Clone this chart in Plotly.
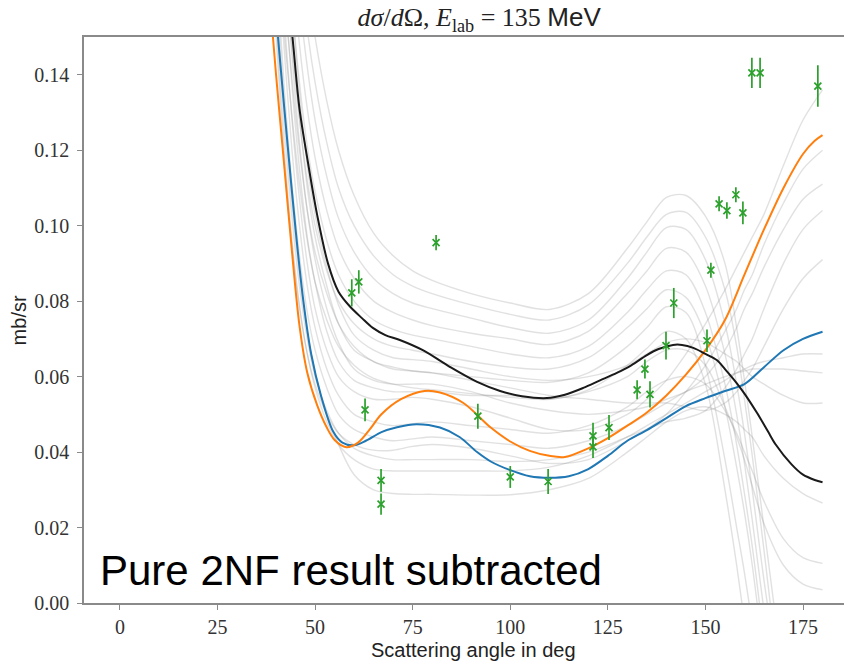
import plotly.graph_objects as go

# ---------------- data ----------------
# experimental points (angle in deg, value in mb/sr, error)
EXP_ANGLE = [59.4, 61.2, 62.8, 66.9, 66.9, 81.0, 91.7, 100.0, 109.7, 121.2, 121.2, 125.3,
             132.5, 134.5, 135.8, 139.9, 141.9, 150.4, 151.4, 153.5, 155.5, 157.8, 159.6,
             161.9, 164.0, 178.8]
EXP_VALUE = [0.0822, 0.0851, 0.0512, 0.0325, 0.0262, 0.0955, 0.0495, 0.0334, 0.0322, 0.0443,
             0.0414, 0.0465, 0.0565, 0.0620, 0.0553, 0.0682, 0.0795, 0.0695, 0.0882, 0.1058,
             0.1040, 0.1082, 0.1034, 0.1405, 0.1405, 0.1370]
EXP_ERROR = [0.0036, 0.0031, 0.0030, 0.0030, 0.0028, 0.0020, 0.0033, 0.0029, 0.0033, 0.0035,
             0.0030, 0.0033, 0.0025, 0.0025, 0.0035, 0.0037, 0.0040, 0.0030, 0.0020, 0.0020,
             0.0022, 0.0020, 0.0030, 0.0040, 0.0040, 0.0055]

ORANGE_X = [38, 40, 42, 44, 46, 48, 50.5, 53, 55, 58, 61, 64, 67, 72, 78, 82, 88, 95, 100,
            105, 110, 114, 120, 125, 130, 135, 140, 145, 150, 155, 160, 165, 170, 175, 178, 180]
ORANGE_Y = [0.165, 0.140, 0.117, 0.094, 0.0735, 0.061, 0.0525, 0.0465, 0.0432, 0.0413, 0.0425,
            0.046, 0.050, 0.054, 0.0562, 0.0558, 0.053, 0.0465, 0.0428, 0.0403, 0.0390, 0.0387,
            0.0410, 0.0437, 0.047, 0.0505, 0.055, 0.0605, 0.067, 0.075, 0.087, 0.099, 0.110,
            0.119, 0.1225, 0.124]

BLUE_X = [39, 41, 43, 45, 47, 49, 51.5, 54.6, 57, 60, 63, 67, 71, 76, 82, 87, 91.5, 95, 100,
          105, 110, 115, 120, 125, 130, 135, 140, 145, 150, 155, 160, 165, 170, 175, 180]
BLUE_Y = [0.168, 0.144, 0.121, 0.099, 0.080, 0.066, 0.055, 0.0455, 0.0425, 0.0418, 0.043,
          0.0453, 0.0466, 0.0474, 0.0465, 0.044, 0.040, 0.0375, 0.0352, 0.0336, 0.0332, 0.0336,
          0.0355, 0.039, 0.043, 0.0458, 0.049, 0.0522, 0.0543, 0.0562, 0.058, 0.0625, 0.067,
          0.070, 0.0719]

BLACK_X = [43, 44.3, 46, 48.2, 50.5, 53.3, 56, 59, 62, 64.8, 68, 71.7, 77.6, 84.5, 91.5, 97.4,
           103, 109.4, 114, 118.7, 123, 127.3, 131, 135, 138, 141.7, 144, 146.9, 150, 152.9,
           155, 158, 160, 163.2, 166, 168, 172, 175, 178, 180]
BLACK_Y = [0.162, 0.149, 0.131, 0.1166, 0.103, 0.090, 0.0825, 0.0785, 0.0755, 0.0729, 0.071,
           0.0697, 0.067, 0.0626, 0.0586, 0.0562, 0.0548, 0.0543, 0.0552, 0.057, 0.059, 0.061,
           0.063, 0.0657, 0.0673, 0.0684, 0.0684, 0.0676, 0.066, 0.0644, 0.062, 0.0583, 0.0555,
           0.0504, 0.0455, 0.042, 0.0368, 0.034, 0.0326, 0.032]

# grey band of individual samples, sampled on a common angle grid
GRAY_ANGLE = [38, 40, 42, 44, 46, 48, 50, 53, 56, 60, 65, 70, 75, 80, 90, 100, 110, 120, 130,
              135, 140, 145, 150, 155, 158, 160, 162, 165, 170, 175, 180]
GRAY_VALUES = [
    [None, None, None, None, 0.190, 0.165, 0.150, 0.133, 0.120, 0.108, 0.098, 0.092, 0.088, 0.0855, 0.082, 0.0795, 0.0778, 0.082, 0.094, 0.101, 0.1075, 0.108, 0.1025, 0.090, 0.073, 0.059, 0.044, 0.020, -0.02, None, None],
    [None, None, None, 0.200, 0.172, 0.152, 0.138, 0.122, 0.110, 0.100, 0.092, 0.087, 0.084, 0.082, 0.079, 0.0765, 0.075, 0.079, 0.090, 0.097, 0.103, 0.1035, 0.097, 0.083, 0.068, 0.054, 0.039, 0.014, -0.03, None, None],
    [None, None, None, 0.185, 0.160, 0.142, 0.128, 0.113, 0.102, 0.093, 0.086, 0.082, 0.0795, 0.078, 0.0755, 0.073, 0.0715, 0.075, 0.086, 0.093, 0.0995, 0.099, 0.091, 0.074, 0.058, 0.045, 0.030, 0.006, -0.03, None, None],
    [None, None, 0.200, 0.170, 0.148, 0.131, 0.118, 0.104, 0.094, 0.086, 0.080, 0.077, 0.075, 0.0735, 0.0715, 0.070, 0.0685, 0.072, 0.082, 0.088, 0.094, 0.093, 0.084, 0.066, 0.050, 0.037, 0.022, -0.002, -0.04, None, None],
    [None, None, 0.190, 0.160, 0.138, 0.121, 0.109, 0.096, 0.087, 0.080, 0.075, 0.0725, 0.071, 0.070, 0.068, 0.066, 0.065, 0.068, 0.077, 0.083, 0.088, 0.087, 0.077, 0.058, 0.042, 0.029, 0.015, -0.010, None, None, None],
    [None, 0.200, 0.172, 0.148, 0.128, 0.112, 0.100, 0.088, 0.080, 0.074, 0.070, 0.068, 0.067, 0.066, 0.064, 0.0625, 0.062, 0.065, 0.073, 0.078, 0.083, 0.081, 0.071, 0.052, 0.036, 0.024, 0.010, -0.015, None, None, None],
    [None, 0.190, 0.163, 0.140, 0.120, 0.104, 0.093, 0.082, 0.074, 0.068, 0.064, 0.0625, 0.0615, 0.061, 0.060, 0.059, 0.0585, 0.061, 0.068, 0.073, 0.0785, 0.077, 0.063, 0.038, 0.020, 0.008, -0.006, -0.03, None, None, None],
    [None, 0.180, 0.152, 0.130, 0.111, 0.096, 0.085, 0.075, 0.068, 0.063, 0.0595, 0.058, 0.057, 0.0565, 0.0555, 0.0545, 0.054, 0.0565, 0.063, 0.0675, 0.072, 0.070, 0.058, 0.030, 0.010, -0.005, -0.02, None, None, None, None],
    [None, 0.190, 0.157, 0.129, 0.107, 0.090, 0.078, 0.067, 0.060, 0.056, 0.054, 0.054, 0.0545, 0.054, 0.052, 0.049, 0.046, 0.046, 0.050, 0.054, 0.059, 0.066, 0.074, 0.083, 0.089, 0.093, 0.097, 0.103, 0.116, 0.128, 0.136],
    [0.175, 0.150, 0.118, 0.095, 0.078, 0.066, 0.058, 0.050, 0.045, 0.042, 0.0405, 0.0405, 0.0415, 0.042, 0.041, 0.039, 0.037, 0.038, 0.043, 0.046, 0.050, 0.056, 0.063, 0.072, 0.078, 0.083, 0.087, 0.095, 0.106, 0.115, 0.120],
    [None, None, 0.175, 0.146, 0.122, 0.104, 0.091, 0.078, 0.069, 0.062, 0.059, 0.058, 0.058, 0.058, 0.056, 0.053, 0.051, 0.050, 0.051, 0.052, 0.054, 0.056, 0.060, 0.067, 0.073, 0.078, 0.082, 0.089, 0.099, 0.107, 0.111],
    [0.185, 0.160, 0.128, 0.103, 0.084, 0.070, 0.060, 0.051, 0.045, 0.041, 0.039, 0.038, 0.038, 0.038, 0.038, 0.0375, 0.038, 0.040, 0.044, 0.046, 0.048, 0.049, 0.051, 0.057, 0.062, 0.066, 0.070, 0.078, 0.090, 0.099, 0.104],
    [None, None, 0.183, 0.153, 0.129, 0.110, 0.097, 0.084, 0.074, 0.067, 0.064, 0.062, 0.0615, 0.061, 0.059, 0.057, 0.055, 0.054, 0.053, 0.053, 0.053, 0.052, 0.051, 0.053, 0.056, 0.059, 0.062, 0.068, 0.078, 0.086, 0.091],
    [0.180, 0.155, 0.122, 0.097, 0.079, 0.066, 0.057, 0.048, 0.042, 0.038, 0.0355, 0.035, 0.035, 0.035, 0.035, 0.035, 0.036, 0.039, 0.044, 0.047, 0.050, 0.053, 0.056, 0.059, 0.061, 0.062, 0.063, 0.064, 0.065, 0.066, 0.066],
    [0.195, 0.170, 0.138, 0.112, 0.092, 0.077, 0.067, 0.057, 0.050, 0.046, 0.044, 0.043, 0.0435, 0.044, 0.043, 0.042, 0.041, 0.043, 0.047, 0.050, 0.053, 0.056, 0.058, 0.060, 0.061, 0.0615, 0.062, 0.062, 0.062, 0.0615, 0.061],
    [None, None, 0.190, 0.160, 0.135, 0.116, 0.103, 0.089, 0.079, 0.071, 0.067, 0.065, 0.0645, 0.064, 0.062, 0.060, 0.059, 0.060, 0.063, 0.066, 0.069, 0.070, 0.069, 0.066, 0.064, 0.062, 0.060, 0.058, 0.055, 0.053, 0.053],
    [0.190, 0.165, 0.133, 0.107, 0.087, 0.072, 0.061, 0.050, 0.042, 0.034, 0.030, 0.029, 0.0288, 0.0288, 0.0286, 0.0287, 0.030, 0.033, 0.040, 0.044, 0.048, 0.051, 0.052, 0.050, 0.048, 0.046, 0.044, 0.039, 0.033, 0.029, 0.0265],
    [None, 0.180, 0.148, 0.121, 0.100, 0.084, 0.073, 0.062, 0.055, 0.050, 0.048, 0.047, 0.0475, 0.048, 0.047, 0.046, 0.045, 0.047, 0.052, 0.056, 0.059, 0.060, 0.058, 0.051, 0.045, 0.040, 0.035, 0.027, 0.017, 0.012, 0.0105],
    [None, 0.200, 0.167, 0.138, 0.115, 0.097, 0.085, 0.072, 0.064, 0.059, 0.057, 0.056, 0.056, 0.056, 0.055, 0.055, 0.054, 0.056, 0.060, 0.064, 0.067, 0.067, 0.063, 0.052, 0.044, 0.038, 0.031, 0.021, 0.010, 0.005, 0.0035],
]

X_TICKS = [0, 25, 50, 75, 100, 125, 150, 175]
Y_TICKS = [0.00, 0.02, 0.04, 0.06, 0.08, 0.10, 0.12, 0.14]

TITLE = ("<i>dσ</i>/<i>d</i>Ω, <i>E</i><sub>lab</sub> = 135 "
         "<span style='font-family:Liberation Sans'>MeV</span>")
X_LABEL = "Scattering angle in deg"
Y_LABEL = "mb/sr"
NOTE = "Pure 2NF result subtracted"

# ---------------- figure ----------------
fig = go.Figure()

for vals in GRAY_VALUES:
    fig.add_trace(go.Scatter(
        x=GRAY_ANGLE, y=vals, mode="lines",
        line=dict(color="rgba(140,140,140,0.26)", width=1.4, shape="spline", smoothing=0.9),
        hoverinfo="skip", showlegend=False))

for xs, ys, col in [(BLUE_X, BLUE_Y, "#1f77b4"), (ORANGE_X, ORANGE_Y, "#ff7f0e"),
                    (BLACK_X, BLACK_Y, "#1a1a1a")]:
    fig.add_trace(go.Scatter(
        x=xs, y=ys, mode="lines",
        line=dict(color=col, width=2, shape="spline", smoothing=0.9),
        showlegend=False))

fig.add_trace(go.Scatter(
    x=EXP_ANGLE, y=EXP_VALUE, mode="markers",
    marker=dict(symbol="x-thin", size=7, line=dict(color="#2ca02c", width=1.7), color="#2ca02c"),
    error_y=dict(type="data", array=EXP_ERROR, visible=True, color="#2ca02c",
                 thickness=1.7, width=0),
    showlegend=False))

axis_common = dict(showgrid=False, zeroline=False, showline=True, linecolor="#8a8a8a",
                   linewidth=1.5, ticks="outside", ticklen=5, tickwidth=1,
                   tickcolor="#8a8a8a",
                   tickfont=dict(family="Liberation Serif", size=20, color="#333333"))

fig.update_xaxes(range=[-9.2, 185.5], tickvals=X_TICKS, ticktext=[str(v) for v in X_TICKS],
                 mirror=True, ticklabelstandoff=0, **axis_common)
fig.update_yaxes(range=[0, 0.15], tickvals=Y_TICKS, ticktext=[f"{v:.2f}" for v in Y_TICKS],
                 mirror=False, ticklabelstandoff=4, **axis_common)

fig.update_layout(
    width=844, height=664,
    margin=dict(l=84, r=0, t=37, b=61),
    paper_bgcolor="white", plot_bgcolor="white",
    title=dict(text=TITLE, x=0.52, xref="paper", xanchor="center",
               y=1 - 17 / 664, yref="container", yanchor="middle",
               font=dict(family="Liberation Serif", size=26, color="#222222")),
    annotations=[
        dict(text=NOTE, xref="paper", yref="paper", x=0.018, y=0.058,
             xanchor="left", yanchor="middle", showarrow=False,
             font=dict(family="Liberation Sans", size=42, color="black")),
        dict(text=X_LABEL, xref="paper", yref="paper", x=0.512, y=-0.083,
             xanchor="center", yanchor="middle", showarrow=False,
             font=dict(family="Liberation Sans", size=20, color="#222222")),
        dict(text=Y_LABEL, xref="paper", yref="paper", x=-0.085, y=0.5,
             xanchor="center", yanchor="middle", showarrow=False, textangle=-90,
             font=dict(family="Liberation Sans", size=20, color="#222222")),
    ],
)

fig.write_html("out.html")
